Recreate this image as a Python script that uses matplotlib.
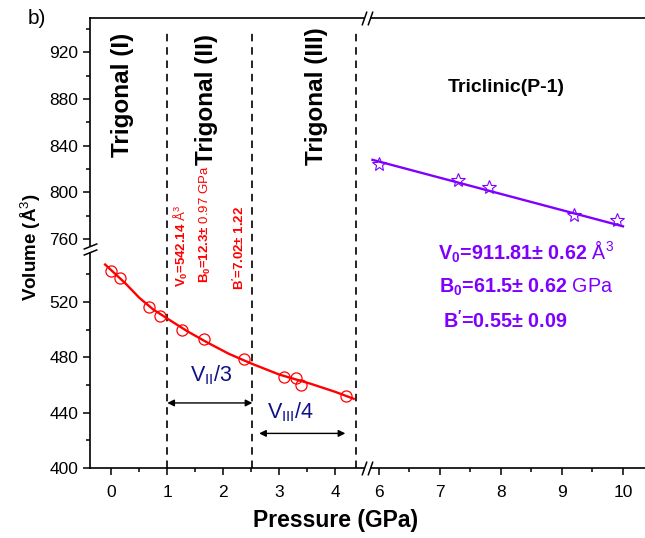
import numpy as np
import matplotlib
matplotlib.use("Agg")
import matplotlib.pyplot as plt
from matplotlib.ticker import FixedLocator, FixedFormatter
from matplotlib.transforms import ScaledTranslation

plt.rcParams['font.family'] = ['Liberation Sans', 'DejaVu Sans']
plt.rcParams['mathtext.fontset'] = 'custom'
plt.rcParams['mathtext.rm'] = 'Liberation Sans'
plt.rcParams['mathtext.bf'] = 'Liberation Sans:bold'
plt.rcParams['mathtext.it'] = 'Liberation Sans:italic'
plt.rcParams['mathtext.sf'] = 'Liberation Sans'

# ---------------- data ----------------
# trigonal phases (red circles)
p_trig = [0.0, 0.15, 0.67, 0.875, 1.27, 1.65, 2.375, 3.09, 3.30, 3.39, 4.20]
v_trig = [542.2, 537.0, 516.5, 510.0, 499.6, 492.9, 478.5, 465.9, 464.8, 459.7, 452.2]
# fitted EOS curve
p_fit_trig = [-0.11, 0.25, 0.5, 0.75, 1.0, 1.35, 1.7, 2.1, 2.5, 3.0, 3.55, 4.0, 4.33]
v_fit_trig = [547.0, 533.5, 523.0, 514.5, 508.0, 499.0, 491.0, 482.5, 475.5, 467.5, 461.0, 455.0, 450.0]
# triclinic phase (purple stars)
p_tric = [6.0, 7.30, 7.81, 9.20, 9.90]
v_tric = [824.2, 810.5, 804.8, 780.8, 776.5]
p_fit_tric = [5.9, 10.0]
v_fit_tric = [828.0, 771.0]
# phase boundaries (dashed lines)
phase_bounds = [1.0, 2.52, 4.37]
# ticks
x_major = [0, 1, 2, 3, 4, 6, 7, 8, 9, 10]
x_labels = ['0', '1', '2', '3', '4', '6', '7', '8', '9', '10']
x_minor = [0.5, 1.5, 2.5, 3.5, 6.5, 7.5, 8.5, 9.5]
y_major = [400, 440, 480, 520, 760, 800, 840, 880, 920]
y_labels = ['400', '440', '480', '520', '760', '800', '840', '880', '920']
y_minor = [420, 460, 500, 540, 780, 820, 860, 900, 940]

# broken-axis scales (piecewise linear)
XD = [-5.0, 4.5, 5.85, 15.0]
XP = [111.3 - 5 * 56.0, 111.3 + 4.5 * 56.0, 378.6 - 0.15 * 61.1, 378.6 + 9 * 61.1]
YD = [300.0, 550.0, 760.0, 1000.0]
YP = [-100 * 1.385, 150 * 1.385, 229.0, 229.0 + 240 * 1.1675]


def fx(x):
    return np.interp(x, XD, XP)


def fx_inv(p):
    return np.interp(p, XP, XD)


def fy(y):
    return np.interp(y, YD, YP)


def fy_inv(p):
    return np.interp(p, YP, YD)


W, H = 645, 538
fig = plt.figure(figsize=(W / 100, H / 100), dpi=100)
left, right, top, bottom = 89.5, 652.0, 17.5, 468.0
ax = fig.add_axes([left / W, 1 - bottom / H, (right - left) / W, (bottom - top) / H])
ax.set_xscale('function', functions=(fx, fx_inv))
ax.set_yscale('function', functions=(fy, fy_inv))
ax.set_xlim(-0.389, 10.475)
ax.set_ylim(400, 950)

red = '#ff0000'
purple = '#8000ff'
navy = '#101088'

# phase boundary dashed lines
ax.vlines(phase_bounds, 400, 940, colors='black', linestyles=(0, (4.5, 3.5)), lw=1.2, zorder=2)

# fitted curves and data
ax.plot(p_fit_trig, v_fit_trig, color=red, lw=1.7, zorder=3)
ax.plot(p_trig, v_trig, ls='none', marker='o', ms=8, mfc='none', mec=red, mew=0.9, zorder=4)
ax.plot(p_fit_tric, v_fit_tric, color=purple, lw=1.7, zorder=3)
ax.plot(p_tric, v_tric, ls='none', marker='*', ms=10, mfc='none', mec=purple, mew=0.8, zorder=4)

# ticks
ax.xaxis.set_major_locator(FixedLocator(x_major))
ax.xaxis.set_major_formatter(FixedFormatter(x_labels))
ax.xaxis.set_minor_locator(FixedLocator(x_minor))
ax.yaxis.set_major_locator(FixedLocator(y_major))
ax.yaxis.set_major_formatter(FixedFormatter(y_labels))
ax.yaxis.set_minor_locator(FixedLocator(y_minor))
ax.tick_params(which='both', direction='out', width=1.1, labelsize=12.5, top=False, right=False)
ax.tick_params(which='major', length=5)
ax.tick_params(which='minor', length=3)
ax.tick_params(axis='x', which='major', pad=7)
ax.tick_params(axis='y', which='major', pad=3)
for s in ax.spines.values():
    s.set_linewidth(1.2)
ax.spines['right'].set_visible(False)

ax.set_xlabel('Pressure (GPa)', fontsize=16.5, fontweight='bold', va='center')
ax.xaxis.set_label_coords((336 - left) / (right - left), (bottom - 521) / (bottom - top))
ax.set_ylabel('Volume (Å$^3$)', fontsize=13.5, fontweight='bold', va='center')
ax.yaxis.set_label_coords((31 - left) / (right - left), (bottom - 247) / (bottom - top))


# break marks
def brk(x, y, horiz):
    if horiz:
        gap_marker, verts = '_', [(-0.35, -1), (0.35, 1)]
        offs = [(-0.03, 0), (0.03, 0)]
    else:
        gap_marker, verts = '|', [(-1, -0.4), (1, 0.4)]
        offs = [(0, -0.03), (0, 0.03)]
    ax.plot([x], [y], marker=gap_marker, ms=4.5, mew=4, color='white', clip_on=False, zorder=9)
    for dx, dy in offs:
        tr = ax.transData + ScaledTranslation(dx, dy, fig.dpi_scale_trans)
        ax.plot([x], [y], marker=verts, ms=10, mew=1.1, color='black', transform=tr,
                clip_on=False, zorder=10)


brk(5.35, 400, True)
brk(5.35, 950, True)
brk(-0.389, 660, False)
brk(10.475, 700, False)

# arrows
ax.annotate('', xy=(phase_bounds[0], 447), xytext=(phase_bounds[1], 447),
            arrowprops=dict(arrowstyle='<|-|>', color='black', lw=1.0, mutation_scale=10,
                            shrinkA=0, shrinkB=0))
ax.annotate('', xy=(2.64, 425), xytext=(4.18, 425),
            arrowprops=dict(arrowstyle='<|-|>', color='black', lw=1.0, mutation_scale=10,
                            shrinkA=0, shrinkB=0))


def fp(x, y):
    return x / W, 1 - y / H


fig.text(*fp(37, 18), 'b)', fontsize=15, ha='center', va='center')
fig.text(*fp(122, 95), 'Trigonal (I)', fontsize=17.5, fontweight='bold', rotation=90, ha='center', va='center')
fig.text(*fp(206, 100), 'Trigonal (II)', fontsize=17.5, fontweight='bold', rotation=90, ha='center', va='center')
fig.text(*fp(316, 96), 'Trigonal (III)', fontsize=17.5, fontweight='bold', rotation=90, ha='center', va='center')
fig.text(*fp(506, 88), 'Triclinic(P-1)', fontsize=14, fontweight='bold', ha='center', va='center')

fig.text(*fp(181, 287), r'$\mathbf{V_0}$=542.14 $\mathrm{Å^3}$', color=red, fontsize=9.5,
         fontweight='bold', rotation=90, ha='center', va='bottom')
fig.text(*fp(205, 283), r'$\mathbf{B_0}$=12.3± $\mathrm{0.97\ GPa}$', color=red, fontsize=9.5,
         fontweight='bold', rotation=90, ha='center', va='bottom')
fig.text(*fp(239, 290), r"$\mathbf{B^{\prime}}$=7.02± 1.22", color=red, fontsize=9.5,
         fontweight='bold', rotation=90, ha='center', va='bottom')

fig.text(*fp(438, 260), r'$\mathbf{V_0}$=911.81± 0.62 $\mathrm{Å^3}$', color=purple, fontsize=14.2,
         fontweight='bold', ha='left', va='baseline')
fig.text(*fp(439, 293), r'$\mathbf{B_0}$=61.5± 0.62 $\mathrm{GPa}$', color=purple, fontsize=14.2,
         fontweight='bold', ha='left', va='baseline')
fig.text(*fp(443, 328), r"$\mathbf{B^{\prime}}$=0.55± 0.09", color=purple, fontsize=14.2,
         fontweight='bold', ha='left', va='baseline')

fig.text(*fp(211, 375), r'V$_{\mathrm{II}}$/3', color=navy, fontsize=15.5, ha='center', va='center')
fig.text(*fp(290, 412), r'V$_{\mathrm{III}}$/4', color=navy, fontsize=15.5, ha='center', va='center')

fig.savefig('out.png', dpi=100)
